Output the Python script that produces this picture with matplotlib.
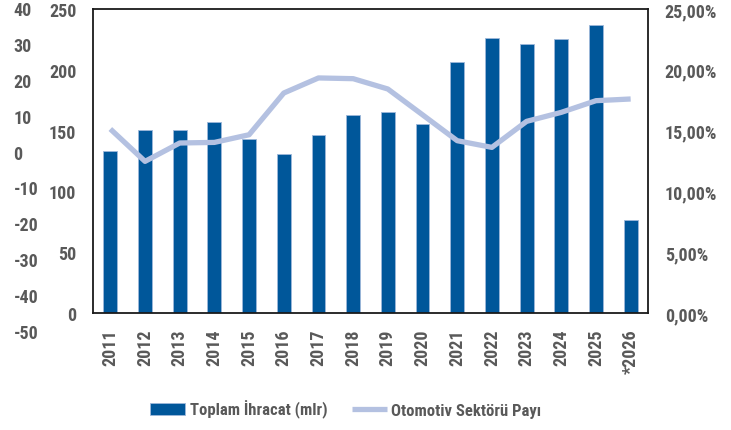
import numpy as np
import matplotlib
matplotlib.use('Agg')
import matplotlib.pyplot as plt
from matplotlib import font_manager

# data
years = ['2011', '2012', '2013', '2014', '2015', '2016', '2017', '2018',
         '2019', '2020', '2021', '2022', '2023', '2024', '2025', '*2026']
total_export = [133.5, 150.8, 150.8, 156.8, 142.8, 130.5, 146.4, 162.6,
                165.0, 155.4, 206.2, 225.9, 221.2, 225.7, 236.8, 76.7]
auto_share = [15.13, 12.47, 13.98, 14.03, 14.66, 18.09, 19.33, 19.27,
              18.42, 16.3, 14.17, 13.62, 15.76, 16.5, 17.46, 17.6]
left_ticks = [0, 50, 100, 150, 200, 250]
right_ticks = [0, 5, 10, 15, 20, 25]
stray_ticks = [40, 30, 20, 10, 0, -10, -20, -30, -40, -50]

# pick a narrow font if there is one
names = set(f.name for f in font_manager.fontManager.ttflist)
family = 'Liberation Sans'
for cand in ['Roboto Condensed', 'Liberation Sans Narrow', 'Open Sans Condensed']:
    if cand in names:
        family = cand
        break
plt.rcParams['font.family'] = [family, 'DejaVu Sans']
plt.rcParams['font.weight'] = 'bold'
plt.rcParams['axes.unicode_minus'] = False

grey = '#595959'
bar_color = '#00579A'
line_color = '#B4C1E1'

W, H = 731, 431
fig = plt.figure(figsize=(W / 100, H / 100), dpi=100)
# plot area in pixels: left 93, right 648, top 10, bottom 314
ax = fig.add_axes([93 / W, 1 - 314 / H, (648 - 93) / W, (314 - 10) / H])
x = np.arange(len(years))
bars = ax.bar(x, total_export, width=0.4, color=bar_color, edgecolor='#9DB8DA',
              linewidth=0.6, label='Toplam İhracat (mlr)', zorder=2)
ax.set_xlim(-0.5, len(years) - 0.5)
ax.set_ylim(0, 250)
ax.set_yticks(left_ticks)
ax.set_xticks(x)
ax.set_xticklabels(years, rotation=90)
ax.tick_params(axis='both', length=0, colors=grey, labelsize=13)
ax.tick_params(axis='y', pad=12)
ax.tick_params(axis='x', pad=11)
for s in ax.spines.values():
    s.set_color('#1a1a1a')
    s.set_linewidth(1.3)

ax2 = ax.twinx()
line, = ax2.plot(x, auto_share, color=line_color, linewidth=3.8,
                 solid_joinstyle='round', solid_capstyle='butt',
                 label='Otomotiv Sektörü Payı', zorder=3)
ax2.set_ylim(0, 25)
ax2.set_yticks(right_ticks)
ax2.set_yticklabels([('%.2f' % v).replace('.', ',') + '%' for v in right_ticks])
ax2.tick_params(axis='y', length=0, colors=grey, labelsize=13, pad=12)
for s in ax2.spines.values():
    s.set_visible(False)

# leftover axis on the far left (40 .. -50)
ax3 = fig.add_axes([5 / W, 1 - 332 / H, 0.0001, (332 - 9) / H])
ax3.set_ylim(-50, 40)
ax3.set_yticks(stray_ticks)
ax3.yaxis.tick_right()
ax3.tick_params(axis='y', length=0, colors=grey, labelsize=13, pad=6)
ax3.set_xticks([])
for lab in ax3.get_yticklabels():
    lab.set_horizontalalignment('left')
for s in ax3.spines.values():
    s.set_visible(False)
ax3.patch.set_visible(False)

leg = fig.legend([bars, line], ['Toplam İhracat (mlr)', 'Otomotiv Sektörü Payı'],
                 loc='center', bbox_to_anchor=(346 / W, 1 - 410 / H), ncol=2,
                 frameon=False, fontsize=12, handlelength=2.1, handleheight=0.75,
                 columnspacing=1.5, handletextpad=0.25)
for t in leg.get_texts():
    t.set_color(grey)

fig.savefig('out.png', dpi=100)
